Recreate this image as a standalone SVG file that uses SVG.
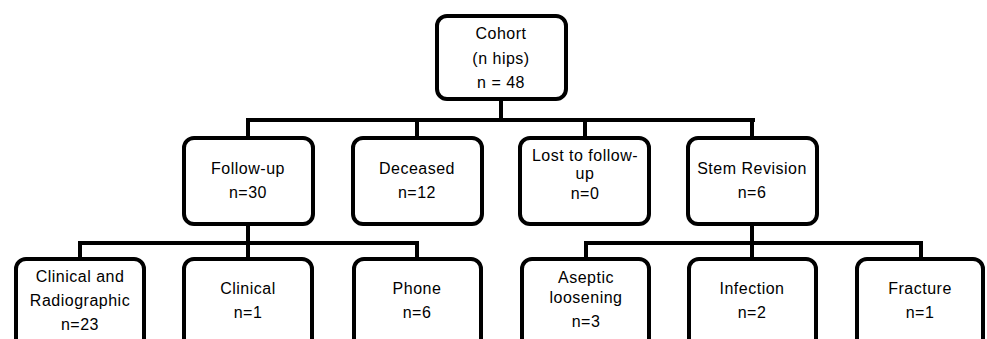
<svg xmlns="http://www.w3.org/2000/svg" width="987" height="339" viewBox="0 0 987 339">
<style>
.box{fill:#fff;stroke:#000;stroke-width:4}
.ln{fill:none;stroke:#000;stroke-width:4;stroke-linecap:square}
text{font-family:"Liberation Sans",Arial,sans-serif;font-size:16px;letter-spacing:0.5px;text-anchor:middle;fill:#000}
</style>
<rect width="987" height="339" fill="#fff"/>
<g id="connectors">
<path class="ln" d="M501,100V120M248,120H753M248,120V137M417,120V137M585,120V137M752,120V137"/>
<path class="ln" d="M248,225V243M80,243H417M80,243V258M248,243V258M417,243V258"/>
<path class="ln" d="M752,225V243M586,243H921M586,243V258M752,243V258M921,243V258"/>
</g>
<g id="cohort"><rect class="box" x="437" y="16" width="129" height="83" rx="10"/>
<text x="501" y="39">Cohort</text><text x="501" y="64">(n hips)</text><text x="501" y="88">n = 48</text></g>
<g id="followup"><rect class="box" x="184" y="138" width="129" height="86" rx="10"/>
<text x="248" y="174">Follow-up</text><text x="248" y="198">n=30</text></g>
<g id="deceased"><rect class="box" x="353" y="138" width="129" height="86" rx="10"/>
<text x="417" y="174">Deceased</text><text x="417" y="198">n=12</text></g>
<g id="lost"><rect class="box" x="520" y="138" width="129" height="86" rx="10"/>
<text x="585" y="161">Lost to follow-</text><text x="585" y="179">up</text><text x="585" y="199">n=0</text></g>
<g id="stem"><rect class="box" x="688" y="138" width="129" height="86" rx="10"/>
<text x="752" y="174">Stem Revision</text><text x="752" y="198">n=6</text></g>
<g id="clinrad"><rect class="box" x="16" y="259" width="128" height="100" rx="10"/>
<text x="80" y="282">Clinical and</text><text x="80" y="306">Radiographic</text><text x="80" y="330">n=23</text></g>
<g id="clinical"><rect class="box" x="184" y="259" width="128" height="100" rx="10"/>
<text x="248" y="294">Clinical</text><text x="248" y="318">n=1</text></g>
<g id="phone"><rect class="box" x="354" y="259" width="127" height="100" rx="10"/>
<text x="417" y="294">Phone</text><text x="417" y="318">n=6</text></g>
<g id="aseptic"><rect class="box" x="522" y="259" width="127" height="100" rx="10"/>
<text x="586" y="283">Aseptic</text><text x="586" y="303">loosening</text><text x="586" y="327">n=3</text></g>
<g id="infection"><rect class="box" x="689" y="259" width="127" height="100" rx="10"/>
<text x="752" y="294">Infection</text><text x="752" y="318">n=2</text></g>
<g id="fracture"><rect class="box" x="857" y="259" width="126" height="100" rx="10"/>
<text x="920" y="294">Fracture</text><text x="920" y="318">n=1</text></g>
</svg>
